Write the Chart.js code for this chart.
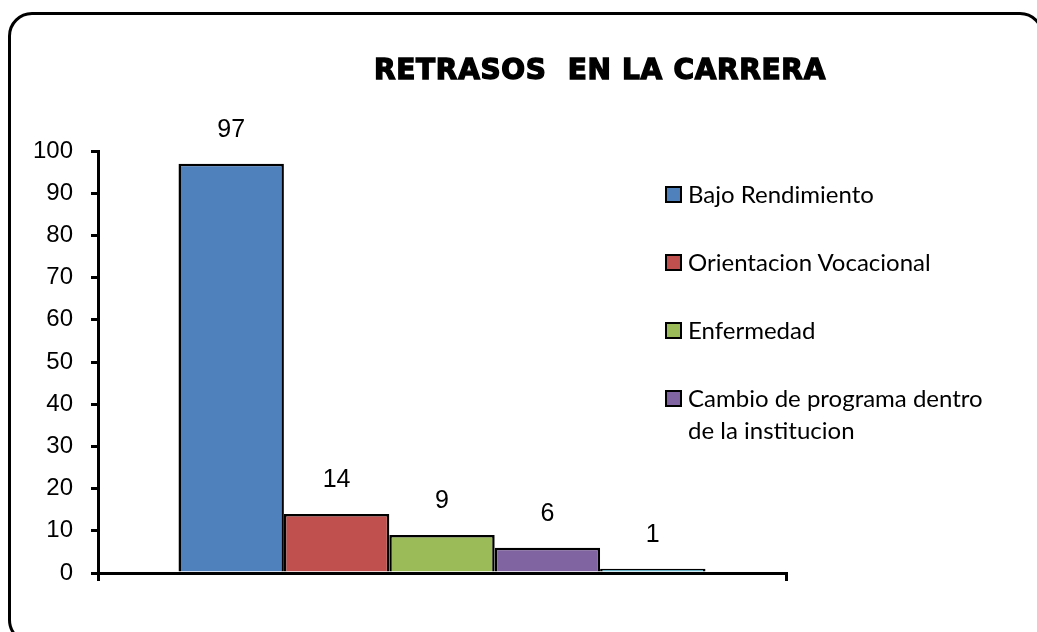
<!DOCTYPE html>
<html>
<head>
<meta charset="utf-8">
<script src="https://cdn.jsdelivr.net/npm/chart.js@4"></script>
<style>
  body { margin: 0; background: #fff; }
  #wrap { position: relative; width: 1037px; height: 632px; overflow: hidden; }
  #frame { position: absolute; left: 8px; top: 12px; width: 1030px; height: 626px;
           border: 3px solid #000; border-radius: 24px; }
  #titulo { position: absolute; left: 300px; width: 600px; top: 53px; text-align: center;
            font: bold 28px "DejaVu Sans", sans-serif; color: #000; -webkit-text-stroke: 1.4px #000;
            letter-spacing: 0.7px; }
  #leyenda { position: absolute; left: 665px; top: 178px; font: 24px Lato, sans-serif; color: #000; }
  .item { display: flex; align-items: flex-start; margin-bottom: 36px; line-height: 32px; }
  .caja { width: 13px; height: 13px; border: 2px solid #000; margin: 8px 6px 0 0; flex: none; }
  canvas { position: absolute; left: 0; top: 0; }
</style>
</head>
<body>
<div id="wrap">
  <div id="frame"></div>
  <canvas id="grafico" width="1037" height="632"></canvas>
  <div id="titulo">RETRASOS&nbsp; EN LA CARRERA</div>
  <div id="leyenda"></div>
</div>
<script>
// datos del grafico
const categorias = [""];
const series = ["Bajo Rendimiento", "Orientacion Vocacional", "Enfermedad", "Cambio de programa dentro de la institucion", "Otros"];
const valores = [97, 14, 9, 6, 1];
const colores = ["#4F81BD", "#C0504D", "#9BBB59", "#8064A2", "#4BACC6"];
const ticksY = [0, 10, 20, 30, 40, 50, 60, 70, 80, 90, 100];
const enLeyenda = 4; // la ultima serie no sale en la leyenda

// etiquetas encima de cada barra
const etiquetas = {
  id: "etiquetas",
  afterDatasetsDraw(chart) {
    const ctx = chart.ctx;
    ctx.save();
    ctx.font = "25px 'Liberation Sans', Arial, sans-serif";
    ctx.fillStyle = "#000";
    ctx.textAlign = "center";
    ctx.textBaseline = "middle";
    chart.data.datasets.forEach((ds, i) => {
      chart.getDatasetMeta(i).data.forEach((bar, j) => {
        ctx.fillText(ds.data[j], bar.x, bar.y - 34);
      });
    });
    ctx.restore();
  }
};

const grafico = new Chart(document.getElementById("grafico"), {
  type: "bar",
  data: {
    labels: categorias,
    datasets: series.map((s, i) => ({
      label: s,
      data: [valores[i]],
      backgroundColor: colores[i],
      borderColor: "#000",
      borderWidth: 2.5,
      categoryPercentage: 0.766,
      barPercentage: 1
    }))
  },
  options: {
    responsive: false,
    animation: false,
    layout: { padding: { left: 20, right: 251, top: 151, bottom: 49 } },
    plugins: { legend: { display: false }, tooltip: { enabled: false } },
    scales: {
      x: {
        ticks: { display: false },
        grid: { offset: true, drawOnChartArea: false, color: "#000", lineWidth: 3, tickLength: 8 },
        border: { color: "#000", width: 3 },
        afterFit: s => { s.height = 10; }
      },
      y: {
        min: 0, max: 100,
        afterBuildTicks: s => { s.ticks = ticksY.map(v => ({ value: v })); },
        ticks: { color: "#000", padding: 18, font: { size: 24, family: "'Liberation Sans', Arial, sans-serif" } },
        grid: { drawOnChartArea: false, color: "#000", lineWidth: 3, tickLength: 7 },
        border: { color: "#000", width: 3 },
        afterFit: s => { s.width = 78; }
      }
    }
  },
  plugins: [etiquetas]
});

// leyenda en html
const leyenda = document.getElementById("leyenda");
series.slice(0, enLeyenda).forEach((s, i) => {
  const item = document.createElement("div");
  item.className = "item";
  const caja = document.createElement("span");
  caja.className = "caja";
  caja.style.background = colores[i];
  const txt = document.createElement("span");
  txt.style.width = "318px";
  txt.textContent = s;
  item.appendChild(caja);
  item.appendChild(txt);
  leyenda.appendChild(item);
});
</script>
</body>
</html>
